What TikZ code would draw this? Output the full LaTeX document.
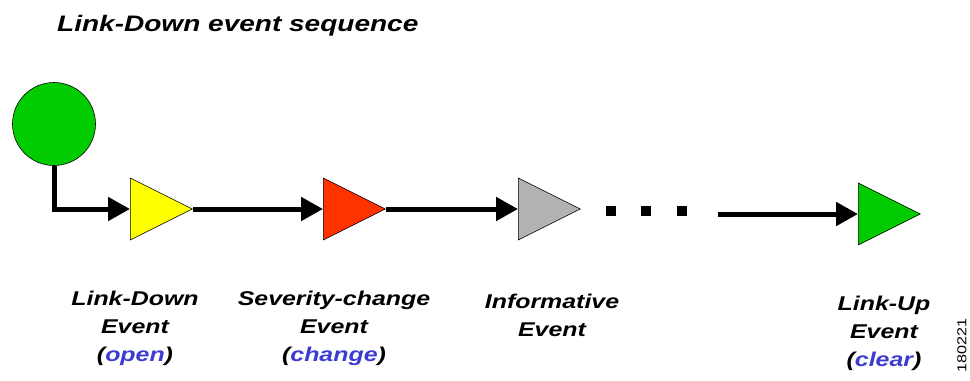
\documentclass[tikz,border=0pt]{standalone}
\usepackage{fontspec}
\setmainfont{Liberation Sans}
\newfontfamily\widefont[FakeStretch=1.25]{Liberation Sans}
\usepackage{tikz}
\usetikzlibrary{shapes.geometric, arrows.meta, positioning}

\definecolor{okgreen}{RGB}{0,204,0}
\definecolor{evyellow}{RGB}{255,255,0}
\definecolor{evred}{RGB}{255,51,0}
\definecolor{evgray}{RGB}{178,178,178}
\definecolor{evblue}{RGB}{60,60,210}

\begin{document}
\begin{tikzpicture}[x=1bp, y=-1bp,
    tri/.style={isosceles triangle, isosceles triangle stretches, draw=black, line width=0.6bp,
                inner sep=0pt, minimum width=62bp, minimum height=62bp, anchor=west},
    flow/.style={line width=5bp, line join=miter, -{Triangle[length=22bp,width=23bp]}},
    lbl/.style={align=center, anchor=north, inner sep=0pt,
                font=\widefont\fontsize{20}{28}\selectfont\bfseries\itshape},
    sq/.style={fill=black, minimum size=10bp, inner sep=0pt}]
          \useasboundingbox (0,0) rectangle (970,380);

          \node[anchor=base west, inner sep=0pt, font=\widefont\fontsize{22.5}{26}\selectfont\bfseries\itshape]
              (title) at (57,31) {Link-Down event sequence};

          \node[circle, draw=black, line width=0.6bp, fill=okgreen, minimum size=83bp, inner sep=0pt] (start) at (54,124) {};

          \node[tri, fill=evyellow] (down) at (130,209) {};
          \node[tri, fill=evred] (sev) at (323,209) {};
          \node[tri, fill=evgray] (info) at (518,209) {};
          \node[tri, fill=okgreen] (up) at (858,214) {};

          \draw[flow] (start.south) |- (down.west);
          \draw[flow] (down.apex) -- (sev.west);
          \draw[flow] (sev.apex) -- (info.west);
          \foreach \x/\n in {611/1, 646/2, 682/3}
              \node[sq] (dot\n) at (\x,211) {};
          \coordinate (more) at (718,214);
          \draw[flow] (more) -- (up.west);

          \node[lbl] (downlbl) at (135,291) {Link-Down\\Event\\(\textcolor{evblue}{open})};
          \node[lbl] (sevlbl) at (334,291) {Severity-change\\Event\\(\textcolor{evblue}{change})};
          \node[lbl] (infolbl) at (552,294) {Informative\\Event};
          \node[lbl] (uplbl) at (884,296) {Link-Up\\Event\\(\textcolor{evblue}{clear})};

          \node[rotate=90, inner sep=0pt, font=\widefont\fontsize{13}{14}\selectfont] (figno) at (962,345) {180221};
      \end{tikzpicture}
\end{document}
